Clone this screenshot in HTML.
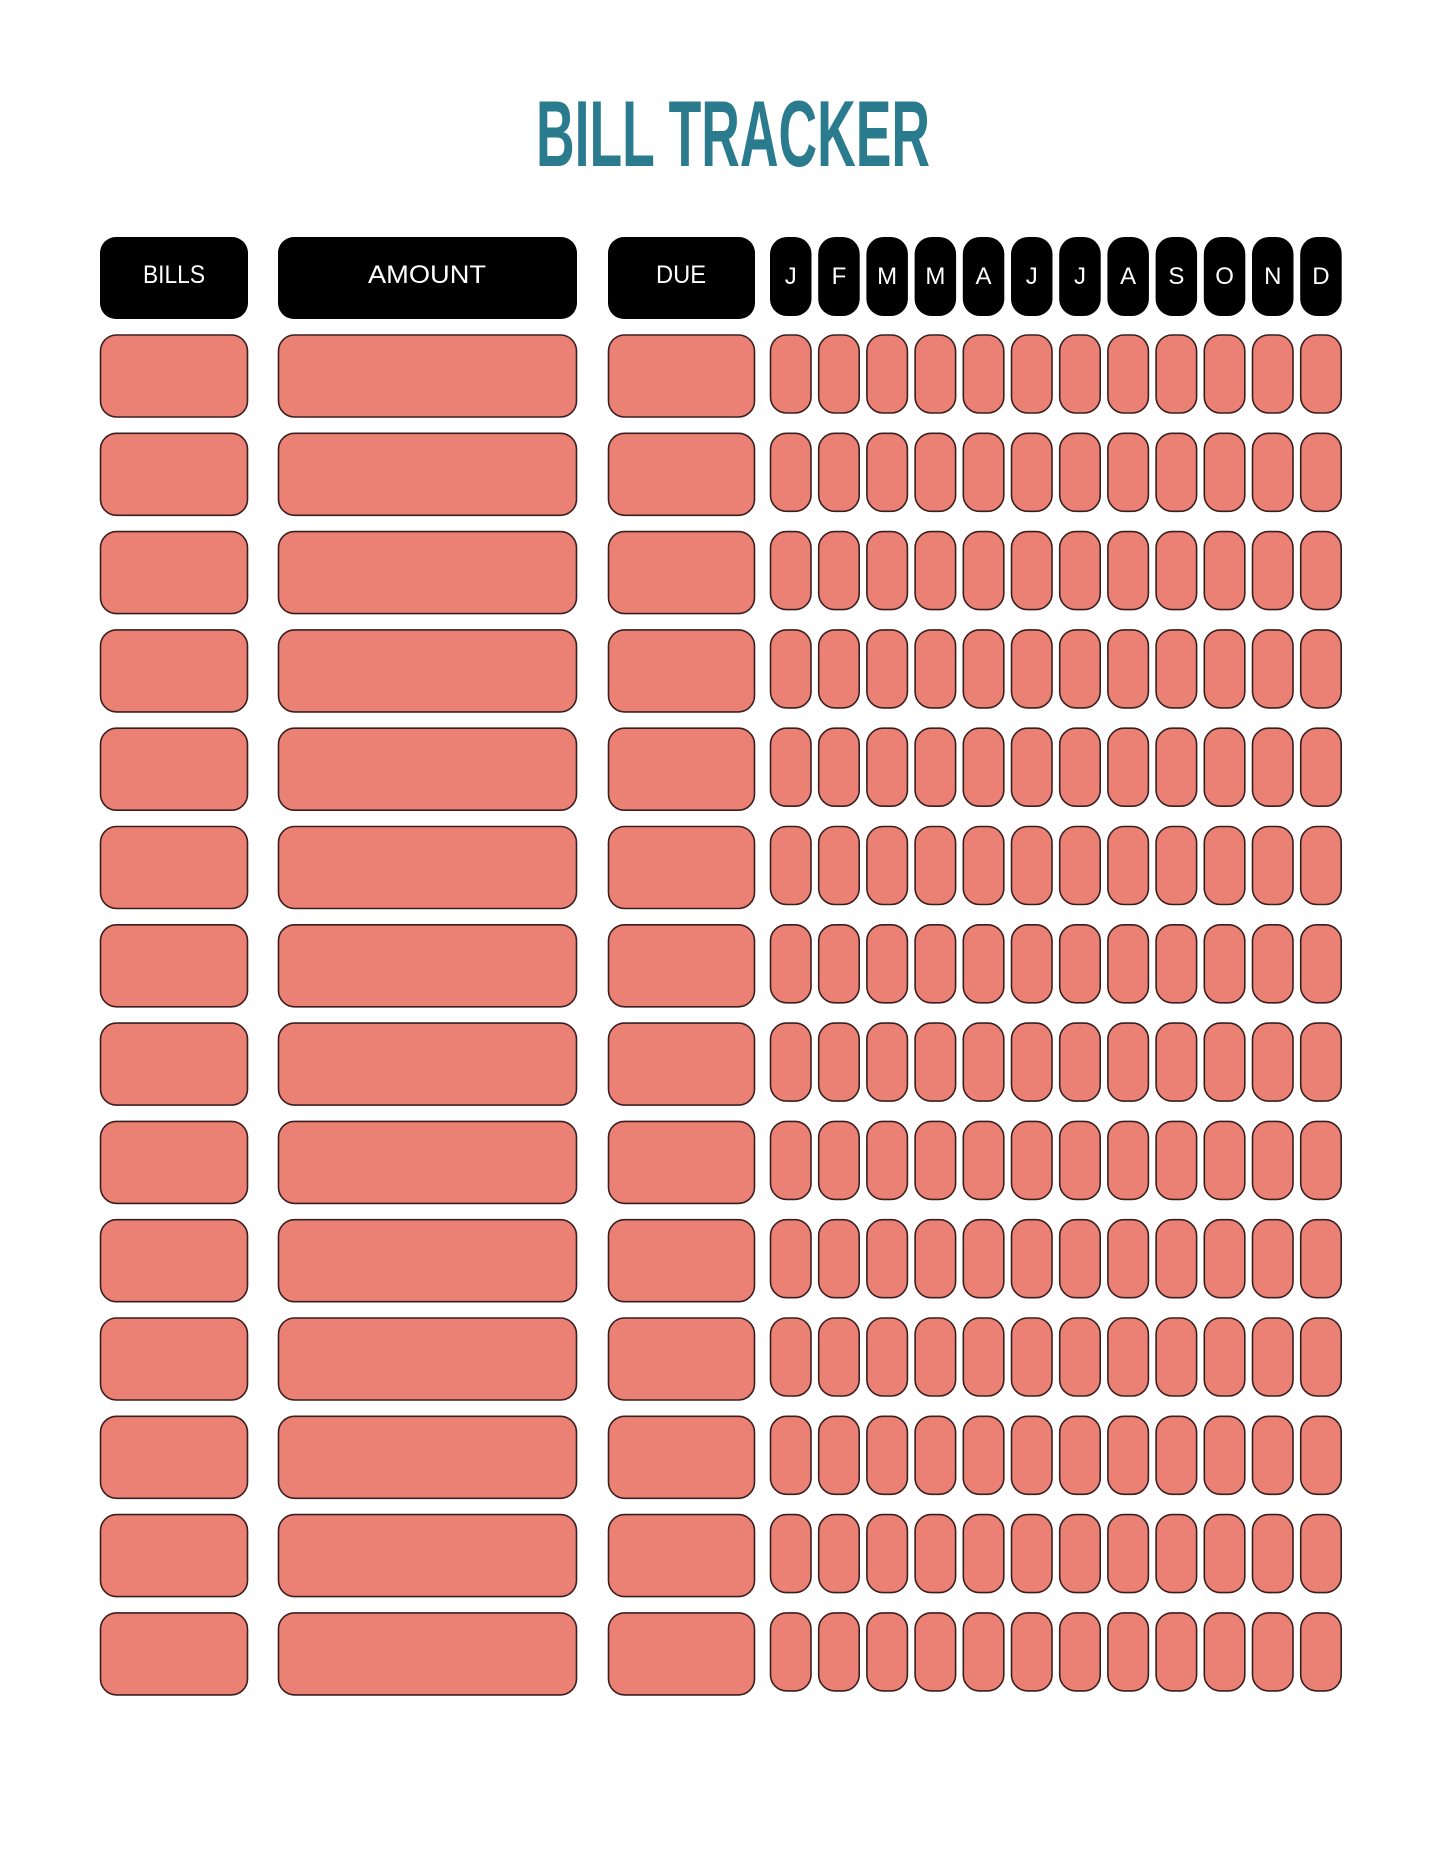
<!DOCTYPE html>
<html><head><meta charset="utf-8"><style>
html,body{margin:0;padding:0;background:#fff}
svg{display:block}
</style></head><body>
<svg width="1445" height="1871" viewBox="0 0 1445 1871" xmlns="http://www.w3.org/2000/svg">
<rect width="1445" height="1871" fill="#fff"/>
<text x="733" y="166" text-anchor="middle" font-family="Liberation Sans, sans-serif" font-weight="bold" font-size="94" fill="#2b7b8f" textLength="394" lengthAdjust="spacingAndGlyphs">BILL TRACKER</text>
<g fill="#000">
<rect x="100" y="237" width="148" height="82" rx="16"/>
<rect x="278" y="237" width="299" height="82" rx="16"/>
<rect x="608" y="237" width="147" height="82" rx="16"/>
</g>
<g font-family="Liberation Sans, sans-serif" font-size="25" fill="#fff" text-anchor="middle">
<text x="174" y="283" textLength="62" lengthAdjust="spacingAndGlyphs">BILLS</text>
<text x="427" y="283" textLength="118" lengthAdjust="spacingAndGlyphs">AMOUNT</text>
<text x="681" y="283" textLength="50" lengthAdjust="spacingAndGlyphs">DUE</text>
</g>
<g id="months"></g>
<g id="rows" fill="#eb8075" stroke="#3a1f1f" stroke-width="1.6"></g>
</svg>
<script>
var ns="http://www.w3.org/2000/svg";
var m=document.getElementById("months"),r=document.getElementById("rows");
var L="JFMMAJJASOND";
function el(p,t,a){var e=document.createElementNS(ns,t);for(var k in a)e.setAttribute(k,a[k]);p.appendChild(e);return e;}
for(var i=0;i<12;i++){var x=770+i*48.2;
el(m,"rect",{x:x,y:237,width:41.5,height:79,rx:17,fill:"#000"});
var t=el(m,"text",{x:x+20.75,y:284,"text-anchor":"middle","font-family":"Liberation Sans, sans-serif","font-size":"24",fill:"#fff"});t.textContent=L[i];}
for(var j=0;j<14;j++){var y=335+j*98.3;
el(r,"rect",{x:100.5,y:y,width:147,height:82,rx:16});
el(r,"rect",{x:278.5,y:y,width:298,height:82,rx:16});
el(r,"rect",{x:608.5,y:y,width:146,height:82,rx:16});
for(var i=0;i<12;i++){el(r,"rect",{x:770.5+i*48.2,y:y,width:40.5,height:78,rx:16});}}
</script>
</body></html>
